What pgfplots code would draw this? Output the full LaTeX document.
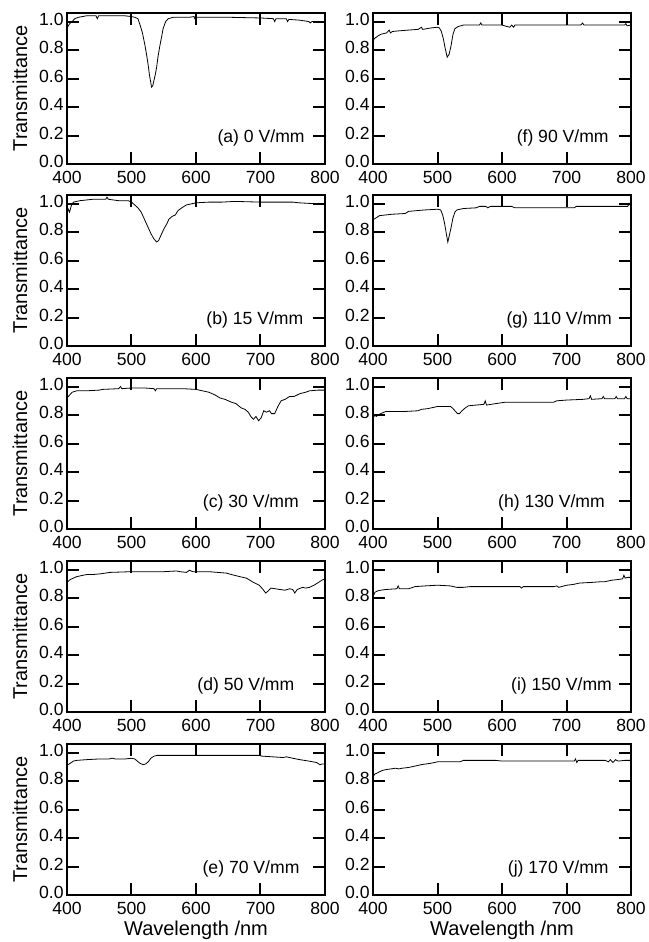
\documentclass[border=0pt]{standalone}
\usepackage{fontspec}
\setmainfont{Liberation Sans}
\usepackage{pgfplots}
\pgfplotsset{compat=1.18}

\pgfplotsset{
  panel/.style={
    width=129pt, height=75.5pt, scale only axis,
    anchor=south west,
    xmin=400, xmax=800, ymin=0, ymax=1.06,
    xtick={400,500,600,700,800},
    ytick={0,0.2,0.4,0.6,0.8,1.0},
    tick align=inside,
    xtick pos=both, ytick pos=both,
    tickwidth=6pt,
    axis line style={line width=1.1pt},
    major tick style={black, line width=1pt},
    /pgf/number format/assume math mode=true,
    tick label style={font=\fontsize{8.8}{10}\selectfont},
    label style={font=\fontsize{8.8}{10}\selectfont},
    yticklabel style={/pgf/number format/fixed, /pgf/number format/precision=1,
      /pgf/number format/fixed zerofill, inner sep=1.5pt, yshift=1.2pt},
    xticklabel style={/pgf/number format/set thousands separator={}, inner sep=1pt, yshift=-2.5pt},
    cycle list={{black, line width=1.1pt, no marks}},
  },
  leftcol/.style={ylabel={Transmittance},
    every axis y label/.style={at={(axis description cs:-0.182,0.5)}, rotate=90, anchor=center}},
  bottomrow/.style={xlabel={Wavelength /nm},
    every axis x label/.style={at={(axis description cs:0.5,-0.232)}, anchor=center}},
}
\newcommand{\tag}[2]{\node[anchor=east, font=\fontsize{8.8}{10}\selectfont, inner sep=0pt] at (axis cs:#1,0.185) {#2};}

\begin{document}
\begin{tikzpicture}
\useasboundingbox (-33.5pt,-23.5pt) rectangle (290.5pt,447.5pt);

% left column
\begin{axis}[panel, leftcol, at={(0pt,365.5pt)}]
\addplot coordinates {(400,0.95)(402,0.97)(405,0.99)(408,1.0)(412,1.02)(418,1.03)(430,1.04)(445,1.04)(447,1.02)(449,1.04)(470,1.04)(490,1.04)(500,1.035)(505,1.03)(510,1.02)(513,0.98)(517,0.92)(521,0.83)(524,0.75)(526,0.69)(528,0.62)(530,0.57)(531,0.54)(533,0.55)(535,0.59)(537,0.63)(539,0.68)(541,0.75)(544,0.83)(547,0.90)(549,0.95)(553,1.0)(557,1.02)(565,1.03)(590,1.03)(597,1.035)(598,1.02)(600,1.03)(650,1.03)(700,1.025)(720,1.02)(722,1.0)(724,1.02)(740,1.02)(742,1.0)(744,1.015)(760,1.01)(775,1.0)(777,0.99)(780,1.0)(790,1.0)(800,1.0)};
\tag{769}{(a) 0 V/mm}
\end{axis}

\begin{axis}[panel, leftcol, at={(0pt,274.5pt)}]
\addplot coordinates {(400,0.93)(402,0.96)(404,0.94)(407,0.99)(410,1.01)(420,1.02)(440,1.03)(460,1.03)(462,1.045)(464,1.03)(480,1.02)(495,1.02)(500,1.01)(505,0.99)(510,0.97)(515,0.94)(520,0.89)(525,0.84)(530,0.79)(535,0.75)(539,0.73)(542,0.74)(546,0.78)(550,0.82)(555,0.86)(558,0.89)(563,0.91)(568,0.92)(572,0.95)(578,0.97)(585,0.99)(595,1.0)(600,1.005)(620,1.01)(640,1.01)(660,1.015)(700,1.01)(720,1.01)(750,1.01)(760,1.005)(780,1.0)(790,1.0)(800,0.995)};
\tag{767}{(b) 15 V/mm}
\end{axis}

\begin{axis}[panel, leftcol, at={(0pt,183pt)}]
\addplot coordinates {(400,0.92)(404,0.94)(408,0.96)(415,0.97)(430,0.97)(450,0.975)(455,0.98)(480,0.985)(483,1.0)(485,0.985)(500,0.99)(520,0.99)(535,0.985)(537,0.97)(539,0.985)(560,0.985)(580,0.985)(600,0.98)(610,0.97)(620,0.96)(630,0.94)(637,0.92)(645,0.91)(655,0.89)(662,0.88)(670,0.85)(676,0.84)(681,0.82)(685,0.79)(689,0.77)(693,0.79)(697,0.76)(701,0.78)(705,0.83)(709,0.82)(714,0.83)(717,0.81)(722,0.81)(727,0.86)(732,0.90)(738,0.91)(745,0.93)(752,0.93)(761,0.95)(770,0.96)(776,0.97)(790,0.975)(800,0.975)};
\tag{760}{(c) 30 V/mm}
\end{axis}

\begin{axis}[panel, leftcol, at={(0pt,91.5pt)}]
\addplot coordinates {(400,0.91)(405,0.93)(410,0.94)(415,0.95)(425,0.96)(431,0.965)(440,0.965)(452,0.97)(467,0.98)(500,0.985)(550,0.985)(570,0.99)(575,0.985)(585,0.98)(590,0.995)(595,0.985)(620,0.985)(647,0.975)(655,0.965)(668,0.95)(678,0.94)(689,0.91)(698,0.89)(704,0.86)(708,0.835)(712,0.85)(716,0.87)(723,0.865)(730,0.86)(738,0.855)(745,0.865)(750,0.86)(753,0.835)(757,0.86)(765,0.875)(770,0.87)(776,0.875)(783,0.89)(790,0.91)(795,0.925)(800,0.935)};
\tag{753}{(d) 50 V/mm}
\end{axis}

\begin{axis}[panel, leftcol, bottomrow, at={(0pt,0pt)}]
\addplot coordinates {(400,0.91)(405,0.925)(410,0.94)(415,0.945)(430,0.95)(450,0.955)(465,0.955)(470,0.96)(475,0.955)(490,0.955)(500,0.96)(505,0.955)(509,0.94)(513,0.925)(518,0.915)(522,0.92)(526,0.935)(530,0.96)(535,0.975)(540,0.98)(600,0.98)(650,0.98)(698,0.98)(702,0.975)(735,0.965)(740,0.97)(750,0.96)(761,0.95)(775,0.94)(787,0.93)(792,0.915)(796,0.92)(800,0.92)};
\tag{761}{(e) 70 V/mm}
\end{axis}

% right column
\begin{axis}[panel, at={(153pt,365.5pt)}]
\addplot coordinates {(400,0.86)(402,0.88)(405,0.89)(408,0.90)(412,0.91)(416,0.915)(421,0.92)(425,0.94)(427,0.92)(430,0.93)(441,0.935)(455,0.94)(470,0.945)(475,0.96)(477,0.945)(490,0.955)(500,0.96)(503,0.955)(506,0.93)(509,0.88)(512,0.81)(515,0.75)(518,0.77)(521,0.83)(524,0.91)(527,0.95)(532,0.965)(540,0.975)(565,0.975)(567,0.99)(569,0.975)(600,0.975)(612,0.96)(615,0.975)(618,0.96)(620,0.975)(700,0.975)(722,0.975)(725,0.99)(727,0.975)(760,0.975)(790,0.975)(792,0.985)(794,0.97)(800,0.975)};
\tag{766}{(f) 90 V/mm}
\end{axis}

\begin{axis}[panel, at={(153pt,274.5pt)}]
\addplot coordinates {(400,0.885)(405,0.90)(410,0.915)(430,0.925)(450,0.93)(455,0.945)(480,0.955)(500,0.96)(505,0.955)(508,0.92)(511,0.86)(514,0.78)(516,0.73)(518,0.77)(521,0.83)(524,0.90)(527,0.94)(530,0.955)(540,0.965)(560,0.97)(565,0.98)(575,0.98)(578,0.97)(582,0.98)(615,0.98)(620,0.97)(700,0.97)(712,0.97)(715,0.98)(760,0.98)(795,0.98)(797,1.0)(800,0.98)};
\tag{771}{(g) 110 V/mm}
\end{axis}

\begin{axis}[panel, at={(153pt,183pt)}]
\addplot coordinates {(400,0.78)(403,0.80)(405,0.79)(408,0.80)(412,0.81)(420,0.825)(450,0.825)(470,0.83)(475,0.84)(485,0.845)(495,0.855)(500,0.86)(520,0.86)(523,0.85)(527,0.83)(531,0.81)(534,0.81)(538,0.83)(543,0.85)(548,0.865)(560,0.87)(572,0.875)(574,0.9)(576,0.87)(590,0.88)(605,0.89)(650,0.89)(680,0.89)(685,0.9)(700,0.905)(725,0.91)(735,0.915)(737,0.935)(739,0.91)(755,0.915)(757,0.93)(759,0.915)(775,0.915)(777,0.93)(779,0.915)(790,0.915)(792,0.93)(794,0.915)(800,0.915)};
\tag{760}{(h) 130 V/mm}
\end{axis}

\begin{axis}[panel, at={(153pt,91.5pt)}]
\addplot coordinates {(400,0.81)(403,0.84)(407,0.85)(412,0.855)(420,0.86)(437,0.865)(439,0.885)(441,0.865)(455,0.865)(465,0.88)(480,0.885)(500,0.89)(520,0.885)(530,0.875)(540,0.875)(550,0.88)(600,0.88)(628,0.88)(630,0.87)(633,0.88)(680,0.88)(685,0.885)(688,0.875)(700,0.89)(710,0.895)(715,0.90)(720,0.905)(740,0.91)(755,0.915)(760,0.915)(770,0.925)(780,0.93)(787,0.935)(789,0.96)(791,0.94)(795,0.945)(800,0.945)};
\tag{771}{(i) 150 V/mm}
\end{axis}

\begin{axis}[panel, bottomrow, at={(153pt,0pt)}]
\addplot coordinates {(400,0.83)(403,0.85)(406,0.855)(410,0.865)(415,0.875)(420,0.88)(435,0.89)(440,0.885)(445,0.89)(455,0.895)(465,0.905)(475,0.915)(490,0.925)(500,0.935)(535,0.935)(540,0.945)(590,0.945)(600,0.94)(650,0.94)(700,0.94)(712,0.94)(714,0.955)(716,0.93)(718,0.945)(760,0.945)(765,0.935)(768,0.95)(772,0.93)(776,0.95)(780,0.94)(790,0.945)(800,0.945)};
\tag{766}{(j) 170 V/mm}
\end{axis}
\end{tikzpicture}
\end{document}
